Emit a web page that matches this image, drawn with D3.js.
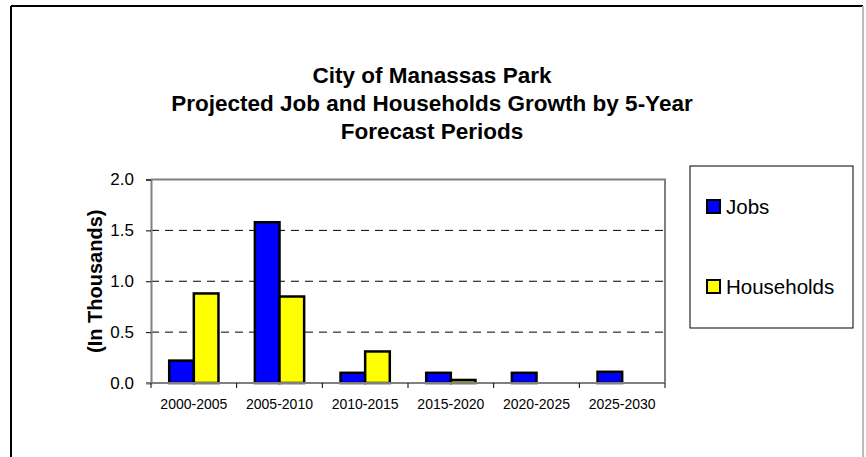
<!DOCTYPE html>
<html>
<head>
<meta charset="utf-8">
<script src="https://cdn.jsdelivr.net/npm/d3@7"></script>
<style>
  body { margin: 0; background: #fff; }
  svg { display: block; font-family: "Liberation Sans", Arial, sans-serif; }
</style>
</head>
<body>
<div id="chart"></div>
<script>
// chart data
var periods = ["2000-2005", "2005-2010", "2010-2015", "2015-2020", "2020-2025", "2025-2030"];
var seriesNames = ["Jobs", "Households"];
var jobs = [0.22, 1.58, 0.10, 0.10, 0.10, 0.11];
var households = [0.88, 0.85, 0.31, 0.03, 0, 0];
var yTicks = [0, 0.5, 1.0, 1.5, 2.0];
var titleLines = ["City of Manassas Park", "Projected Job and Households Growth by 5-Year", "Forecast Periods"];
var colors = { "Jobs": "#0000ff", "Households": "#ffff00" };

var W = 866, H = 457;
var plot = { left: 151, right: 665, top: 179.5, bottom: 383 };

var svg = d3.select("#chart").append("svg")
    .attr("width", W)
    .attr("height", H);

    // outer chart frame
svg.append("line").attr("x1", 11).attr("y1", 6).attr("x2", 11).attr("y2", H + 5)
    .attr("stroke", "#000").attr("stroke-width", 2);
svg.append("line").attr("x1", 11).attr("y1", 6).attr("x2", 863).attr("y2", 6)
    .attr("stroke", "#000").attr("stroke-width", 2);
svg.append("line").attr("x1", 863).attr("y1", 6).attr("x2", 863).attr("y2", H + 5)
    .attr("stroke", "#bbb").attr("stroke-width", 2);

    // title
svg.append("g").selectAll("text").data(titleLines).enter().append("text")
    .attr("x", 432)
    .attr("y", function(d, i) { return 83 + i * 28; })
    .attr("text-anchor", "middle")
    .style("font-size", "22.5px")
    .style("font-weight", "bold")
    .text(function(d) { return d; });

    // scales
var x = d3.scaleBand().domain(periods)
    .range([plot.left, plot.right])
    .paddingInner(0.425)
    .paddingOuter(0.2125);
var xSub = d3.scaleBand().domain(seriesNames).range([0, x.bandwidth()]);
var y = d3.scaleLinear().domain([0, 2]).range([plot.bottom, plot.top]);

    // dashed gridlines
svg.append("g").selectAll("line").data(yTicks.filter(function(t) { return t > 0 && t < 2; }))
    .enter().append("line")
    .attr("x1", plot.left).attr("x2", plot.right)
    .attr("y1", function(d) { return y(d); })
    .attr("y2", function(d) { return y(d); })
    .attr("stroke", "#000")
    .attr("stroke-width", 1)
    .attr("stroke-dasharray", "8,6");

    // top and right border of plot
svg.append("path")
    .attr("d", "M" + plot.left + "," + plot.top + "H" + plot.right + "V" + plot.bottom)
    .attr("fill", "none")
    .attr("stroke", "#808080")
    .attr("stroke-width", 2);

    // bars
var rows = periods.map(function(p, i) {
    return [{ period: p, name: "Jobs", value: jobs[i] },
            { period: p, name: "Households", value: households[i] }];
});
svg.append("g").selectAll("g").data(rows).enter().append("g")
    .attr("transform", function(d) { return "translate(" + x(d[0].period) + ",0)"; })
    .selectAll("rect").data(function(d) { return d.filter(function(b) { return b.value > 0; }); })
    .enter().append("rect")
    .attr("x", function(d) { return xSub(d.name); })
    .attr("y", function(d) { return y(d.value); })
    .attr("width", xSub.bandwidth())
    .attr("height", function(d) { return y(0) - y(d.value); })
    .attr("fill", function(d) { return colors[d.name]; })
    .attr("stroke", "#000")
    .attr("stroke-width", 2.5);

    // y axis
var yAxis = svg.append("g")
    .attr("transform", "translate(" + plot.left + ",0)")
    .call(d3.axisLeft(y).tickValues(yTicks).tickFormat(d3.format(".1f")).tickSize(5).tickPadding(12));
yAxis.select(".domain").attr("stroke", "#808080").attr("stroke-width", 2);
yAxis.selectAll(".tick line").attr("stroke", "#000");
yAxis.selectAll("text").style("font-size", "17px").attr("fill", "#000");

    // x axis with ticks on category boundaries
var xAxisG = svg.append("g").attr("transform", "translate(0," + plot.bottom + ")");
xAxisG.append("line").attr("x1", plot.left - 5).attr("x2", plot.right)
    .attr("stroke", "#808080").attr("stroke-width", 2);
var step = x.step();
var bounds = d3.range(periods.length + 1).map(function(i) { return plot.left + i * step; });
xAxisG.selectAll(".xt").data(bounds).enter().append("line")
    .attr("class", "xt")
    .attr("x1", function(d) { return d; }).attr("x2", function(d) { return d; })
    .attr("y1", 0).attr("y2", 5)
    .attr("stroke", "#000");
xAxisG.selectAll("text").data(periods).enter().append("text")
    .attr("x", function(d) { return x(d) + x.bandwidth() / 2; })
    .attr("y", 26)
    .attr("text-anchor", "middle")
    .style("font-size", "14px")
    .text(function(d) { return d; });

    // y axis title
svg.append("text")
    .attr("transform", "translate(102," + ((plot.top + plot.bottom) / 2) + ") rotate(-90)")
    .attr("text-anchor", "middle")
    .style("font-size", "20px")
    .style("font-weight", "bold")
    .text("(In Thousands)");

    // legend
var legend = svg.append("g");
legend.append("rect")
    .attr("x", 690).attr("y", 166).attr("width", 163).attr("height", 162)
    .attr("fill", "#fff").attr("stroke", "#000").attr("stroke-width", 1);
var items = legend.selectAll(".item").data(seriesNames).enter().append("g")
    .attr("class", "item")
    .attr("transform", function(d, i) { return "translate(707," + (200 + i * 80) + ")"; });
items.append("rect")
    .attr("width", 13).attr("height", 13)
    .attr("fill", function(d) { return colors[d]; })
    .attr("stroke", "#000").attr("stroke-width", 2);
items.append("text")
    .attr("x", 19).attr("y", 14)
    .style("font-size", "20.5px")
    .text(function(d) { return d; });
</script>
</body>
</html>
